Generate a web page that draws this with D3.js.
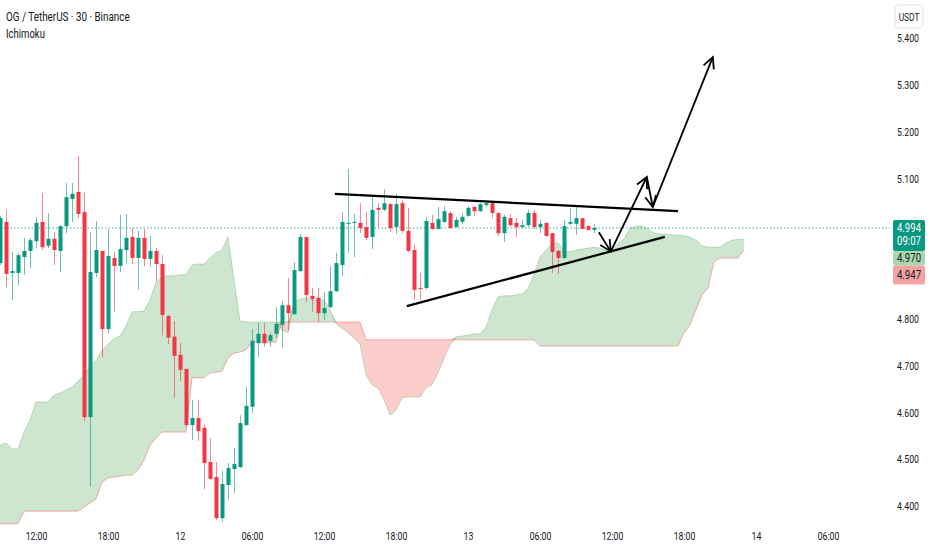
<!DOCTYPE html>
<html>
<head>
<meta charset="utf-8">
<script src="https://cdn.jsdelivr.net/npm/d3@7"></script>
<style>
    body { margin: 0; background: #fff; }
    svg { display: block; }
    text { font-family: Roboto, "Liberation Sans", sans-serif; fill: #131722; }
</style>
</head>
<body>
<svg id="chart" width="932" height="550"></svg>
<script>
// 30 minute candles, first one at 11th 09:00
var barStart = new Date(2025, 6, 11, 9, 0);
var barMinutes = 30;

var opens = [4.919, 5.007, 4.898, 4.898, 4.932, 4.945, 4.966, 5.007, 4.956, 4.971,
    4.945, 4.998, 5.056, 5.071, 5.028, 4.590, 4.898, 4.945, 4.778, 4.930,
    4.913, 4.947, 4.975, 4.930, 4.973, 4.928, 4.945, 4.917, 4.806, 4.762,
    4.723, 4.693, 4.573, 4.588, 4.567, 4.494, 4.462, 4.374, 4.445, 4.479,
    4.483, 4.573, 4.612, 4.748, 4.768, 4.753, 4.768, 4.787, 4.829, 4.810,
    4.902, 4.975, 4.849, 4.845, 4.812, 4.825, 4.859, 4.915, 5.003, 5.005,
    5.005, 4.996, 4.975, 5.037, 5.033, 5.045, 4.996, 5.047, 4.988, 4.947,
    4.866, 4.866, 5.005, 4.992, 5.007, 5.026, 4.996, 5.007, 5.020, 5.039,
    5.030, 5.043, 5.047, 5.026, 4.983, 5.015, 5.005, 4.996, 5.000, 5.026,
    4.996, 5.005, 4.983, 4.945, 4.930, 5.003, 5.003, 5.015, 4.998, 4.990];
var highs = [5.020, 5.033, 4.943, 4.941, 4.973, 4.973, 5.018, 5.069, 5.026, 4.985,
    5.000, 5.090, 5.090, 5.148, 5.069, 4.985, 5.009, 4.945, 4.992, 4.943,
    5.022, 5.024, 4.994, 4.988, 4.992, 4.977, 4.951, 4.936, 4.808, 4.795,
    4.748, 4.693, 4.627, 4.627, 4.573, 4.545, 4.494, 4.475, 4.492, 4.524,
    4.594, 4.654, 4.778, 4.791, 4.791, 4.770, 4.825, 4.838, 4.887, 4.921,
    4.981, 4.975, 4.866, 4.866, 4.857, 4.913, 4.941, 5.028, 5.120, 5.024,
    5.047, 5.028, 5.065, 5.047, 5.077, 5.047, 5.067, 5.054, 5.037, 4.958,
    4.898, 5.018, 5.022, 5.039, 5.041, 5.030, 5.018, 5.026, 5.041, 5.041,
    5.047, 5.050, 5.050, 5.028, 5.022, 5.024, 5.015, 5.011, 5.033, 5.033,
    5.011, 5.005, 4.983, 4.947, 5.011, 5.037, 5.039, 5.015, 5.000, 5.003];
var lows = [4.915, 4.868, 4.840, 4.872, 4.894, 4.909, 4.951, 4.947, 4.951, 4.915,
    4.900, 4.983, 5.007, 5.015, 4.582, 4.441, 4.889, 4.718, 4.770, 4.815,
    4.900, 4.919, 4.917, 4.862, 4.913, 4.911, 4.881, 4.765, 4.746, 4.631,
    4.667, 4.569, 4.541, 4.539, 4.436, 4.456, 4.370, 4.366, 4.415, 4.428,
    4.481, 4.571, 4.599, 4.718, 4.740, 4.740, 4.759, 4.738, 4.774, 4.808,
    4.900, 4.836, 4.815, 4.793, 4.797, 4.823, 4.857, 4.891, 4.941, 4.932,
    4.983, 4.968, 4.949, 4.996, 5.030, 4.985, 4.981, 4.983, 4.943, 4.840,
    4.840, 4.862, 4.990, 4.990, 5.005, 4.992, 4.996, 5.003, 5.018, 5.020,
    5.028, 5.039, 5.015, 4.977, 4.964, 4.996, 4.975, 4.994, 4.996, 4.992,
    4.983, 4.975, 4.898, 4.896, 4.928, 5.000, 4.979, 4.992, 4.988, 4.983];
var closes = [5.015, 4.896, 4.902, 4.936, 4.945, 4.968, 5.005, 4.953, 4.971, 4.947,
    4.998, 5.060, 5.067, 5.024, 4.590, 4.900, 4.947, 4.778, 4.934, 4.913,
    4.949, 4.973, 4.930, 4.973, 4.928, 4.945, 4.917, 4.808, 4.760, 4.721,
    4.691, 4.573, 4.588, 4.560, 4.492, 4.458, 4.374, 4.447, 4.481, 4.490,
    4.577, 4.614, 4.753, 4.768, 4.748, 4.765, 4.789, 4.829, 4.812, 4.904,
    4.975, 4.851, 4.842, 4.812, 4.823, 4.859, 4.919, 5.007, 5.005, 5.007,
    4.994, 4.973, 5.033, 5.033, 5.047, 4.994, 5.045, 4.988, 4.945, 4.862,
    4.864, 5.009, 4.992, 5.013, 5.030, 4.994, 5.011, 5.018, 5.037, 5.030,
    5.045, 5.047, 5.026, 4.983, 5.018, 5.000, 4.996, 5.000, 5.026, 4.996,
    5.003, 4.977, 4.943, 4.930, 4.998, 5.007, 5.015, 4.992, 4.990, 4.994];

// Ichimoku leading spans, already shifted 26 bars ahead
var spanA = [4.530, 4.535, 4.522, 4.522, 4.558, 4.584, 4.622, 4.622, 4.622, 4.637,
    4.641, 4.648, 4.654, 4.667, 4.680, 4.699, 4.710, 4.733, 4.746, 4.757,
    4.763, 4.785, 4.815, 4.815, 4.817, 4.840, 4.879, 4.889, 4.892, 4.892,
    4.894, 4.894, 4.915, 4.917, 4.917, 4.930, 4.941, 4.947, 4.975, 4.883,
    4.795, 4.793, 4.793, 4.793, 4.793, 4.793, 4.793, 4.776, 4.770, 4.836,
    4.842, 4.845, 4.840, 4.840, 4.840, 4.819, 4.789, 4.780, 4.770, 4.759,
    4.746, 4.680, 4.659, 4.652, 4.627, 4.594, 4.605, 4.631, 4.633, 4.633,
    4.633, 4.652, 4.659, 4.684, 4.716, 4.744, 4.761, 4.763, 4.765, 4.768,
    4.768, 4.782, 4.819, 4.847, 4.849, 4.849, 4.851, 4.853, 4.864, 4.894,
    4.932, 4.947, 4.960, 4.962, 4.945, 4.943, 4.947, 4.949, 4.951, 4.953,
    4.951, 4.947, 4.951, 4.960, 4.971, 4.994, 4.998, 4.998, 4.992, 4.983,
    4.981, 4.981, 4.979, 4.979, 4.977, 4.975, 4.968, 4.956, 4.953, 4.953,
    4.953, 4.962, 4.968, 4.970, 4.970];
var spanB = [4.362, 4.362, 4.362, 4.362, 4.389, 4.389, 4.389, 4.389, 4.389, 4.389,
    4.389, 4.389, 4.389, 4.389, 4.398, 4.406, 4.415, 4.451, 4.460, 4.462,
    4.464, 4.466, 4.466, 4.477, 4.498, 4.530, 4.545, 4.558, 4.558, 4.558,
    4.558, 4.558, 4.674, 4.674, 4.674, 4.684, 4.686, 4.688, 4.716, 4.727,
    4.729, 4.733, 4.750, 4.750, 4.750, 4.750, 4.750, 4.795, 4.793, 4.793,
    4.793, 4.793, 4.793, 4.793, 4.793, 4.793, 4.793, 4.793, 4.793, 4.793,
    4.793, 4.755, 4.755, 4.755, 4.755, 4.755, 4.755, 4.755, 4.755, 4.755,
    4.755, 4.755, 4.755, 4.755, 4.755, 4.755, 4.755, 4.755, 4.755, 4.755,
    4.755, 4.755, 4.755, 4.755, 4.755, 4.755, 4.755, 4.755, 4.755, 4.755,
    4.742, 4.742, 4.742, 4.742, 4.742, 4.742, 4.742, 4.742, 4.742, 4.742,
    4.742, 4.742, 4.742, 4.742, 4.742, 4.742, 4.742, 4.742, 4.742, 4.742,
    4.742, 4.742, 4.742, 4.742, 4.770, 4.787, 4.819, 4.851, 4.866, 4.921,
    4.930, 4.930, 4.930, 4.930, 4.947];

var priceTicks = [4.4, 4.5, 4.6, 4.7, 4.8, 4.9, 5.0, 5.1, 5.2, 5.3, 5.4];
var hiddenTicks = [4.9, 5.0];
var timeTickBars = [6, 18, 30, 42, 54, 66, 78, 90, 102, 114, 126, 138];
var timeLabels = ["12:00", "18:00", "12", "06:00", "12:00", "18:00", "13", "06:00", "12:00", "18:00", "14", "06:00"];

var lastPrice = 4.994;
var countdown = "09:07";

// drawings: [bar index, price]
var upperTrend = [[55.8, 5.067], [113.0, 5.030]];
var lowerTrend = [[67.8, 4.827], [110.8, 4.975]];
var arrowPath = [[99.8, 4.985], [101.8, 4.944], [107.8, 5.103], [108.8, 5.039], [118.8, 5.359]];

var upColor = "#089981";
var downColor = "#f23645";
var squeeze = 0.76;

function barTime(i) {
    return new Date(barStart.getTime() + i * barMinutes * 60000);
}

var svg = d3.select("#chart");

var x = d3.scaleTime()
    .domain([barTime(0), barTime(100)])
    .range([0, 600]);

var y = d3.scaleLinear()
    .domain([4.4, 5.4])
    .range([506, 38]);

svg.append("defs")
    .call(function (defs) {
        defs.append("clipPath").attr("id", "plot")
            .append("rect").attr("x", 0).attr("y", 0).attr("width", 890).attr("height", 525);
        defs.append("marker")
            .attr("id", "arrow")
            .attr("markerUnits", "userSpaceOnUse")
            .attr("viewBox", "-14 -8 16 16")
            .attr("markerWidth", 16)
            .attr("markerHeight", 16)
            .attr("orient", "auto")
            .append("path")
                .attr("d", "M-11,-5.5 L0,0 L-11,5.5")
                .attr("fill", "none")
                .attr("stroke", "#000")
                .attr("stroke-width", 1.8)
                .attr("stroke-linejoin", "miter");
    });

var plot = svg.append("g").attr("clip-path", "url(#plot)");

// cloud
var cloud = spanA.map(function (a, i) { return { t: barTime(i), a: a, b: spanB[i] }; });

var greenArea = d3.area()
    .x(function (d) { return x(d.t); })
    .y0(function (d) { return y(d.b); })
    .y1(function (d) { return y(Math.max(d.a, d.b)); });
var redArea = d3.area()
    .x(function (d) { return x(d.t); })
    .y0(function (d) { return y(d.a); })
    .y1(function (d) { return y(Math.max(d.a, d.b)); });

plot.append("path").attr("d", greenArea(cloud)).attr("fill", "rgba(67,160,71,0.26)");
plot.append("path").attr("d", redArea(cloud)).attr("fill", "rgba(244,67,54,0.26)");

plot.append("path")
    .attr("d", d3.line().x(function (d) { return x(d.t); }).y(function (d) { return y(d.a); })(cloud))
    .attr("fill", "none").attr("stroke", "rgba(67,160,71,0.3)").attr("stroke-width", 1);
plot.append("path")
    .attr("d", d3.line().x(function (d) { return x(d.t); }).y(function (d) { return y(d.b); })(cloud))
    .attr("fill", "none").attr("stroke", "rgba(244,67,54,0.4)").attr("stroke-width", 1);

// last price line
plot.append("line")
    .attr("x1", 0).attr("x2", 893)
    .attr("y1", y(lastPrice)).attr("y2", y(lastPrice))
    .attr("stroke", upColor).attr("stroke-opacity", 0.8)
    .attr("stroke-dasharray", "1.5,2");

// candles
var candles = d3.range(opens.length).map(function (i) {
    return { t: barTime(i), o: opens[i], h: highs[i], l: lows[i], c: closes[i] };
});

var cg = plot.append("g")
    .selectAll("g")
    .data(candles)
    .enter()
    .append("g")
        .attr("class", "candle");

cg.append("line")
    .attr("x1", function (d) { return Math.round(x(d.t)) + 0.5; })
    .attr("x2", function (d) { return Math.round(x(d.t)) + 0.5; })
    .attr("y1", function (d) { return y(d.h); })
    .attr("y2", function (d) { return y(d.l); })
    .attr("stroke", function (d) { return d.c >= d.o ? upColor : downColor; })
    .attr("stroke-opacity", 0.6);

cg.append("rect")
    .attr("x", function (d) { return Math.round(x(d.t)) - 1.5; })
    .attr("width", 4)
    .attr("y", function (d) { return y(Math.max(d.o, d.c)); })
    .attr("height", function (d) { return Math.max(1, Math.abs(y(d.o) - y(d.c))); })
    .attr("fill", function (d) { return d.c >= d.o ? upColor : downColor; });

// drawings
function pt(p) { return [x(barTime(p[0])), y(p[1])]; }

[upperTrend, lowerTrend].forEach(function (seg) {
    plot.append("path")
        .attr("d", d3.line()(seg.map(pt)))
        .attr("stroke", "#000").attr("stroke-width", 2.2).attr("fill", "none");
});

d3.pairs(arrowPath).forEach(function (pair) {
    plot.append("path")
        .attr("d", d3.line()(pair.map(pt)))
        .attr("stroke", "#000").attr("stroke-width", 1.8).attr("fill", "none")
        .attr("marker-end", "url(#arrow)");
});

// time axis
var xAxis = d3.axisBottom(x)
    .tickValues(timeTickBars.map(barTime))
    .tickFormat(function (d, i) { return timeLabels[i]; })
    .tickSize(0)
    .tickPadding(6);

svg.append("g")
    .attr("transform", "translate(0,526)")
    .call(xAxis)
    .call(function (g) { g.select(".domain").remove(); })
    .selectAll("text")
        .attr("font-size", 11.5)
        .attr("font-family", "Roboto, sans-serif")
        .attr("fill", "#131722")
        .attr("transform", "scale(" + squeeze + ",1)");

// price axis
var yAxis = d3.axisRight(y)
    .tickValues(priceTicks.filter(function (p) { return hiddenTicks.indexOf(p) < 0; }))
    .tickFormat(d3.format(".3f"))
    .tickSize(0)
    .tickPadding(4);

svg.append("g")
    .attr("transform", "translate(894,0)")
    .call(yAxis)
    .call(function (g) { g.select(".domain").remove(); })
    .selectAll("text")
        .attr("font-size", 11.5)
        .attr("font-family", "Roboto, sans-serif")
        .attr("fill", "#131722")
        .attr("transform", "scale(" + squeeze + ",1)");

// currency badge
var badge = svg.append("g").attr("transform", "translate(895,5)");
badge.append("rect")
    .attr("width", 28).attr("height", 23).attr("rx", 4)
    .attr("fill", "#fff").attr("stroke", "#e0e3eb");
badge.append("text")
    .attr("transform", "translate(14,15.5) scale(" + squeeze + ",1)")
    .attr("text-anchor", "middle")
    .attr("font-size", 11)
    .text("USDT");

// price labels on the scale
var yl = y(lastPrice);
var labels = [
    { top: yl - 8, h: 31, fill: upColor, color: "#fff", lines: [d3.format(".3f")(lastPrice), countdown] },
    { top: yl + 23, h: 14.5, fill: "#a9d8ac", color: "#131722", lines: [d3.format(".3f")(spanA[spanA.length - 1])] },
    { top: yl + 37.5, h: 19, fill: "#f4a3a3", color: "#131722", lines: [d3.format(".3f")(spanB[spanB.length - 1])] }
];

var lg = svg.append("g")
    .selectAll("g")
    .data(labels)
    .enter()
    .append("g")
        .attr("transform", function (d) { return "translate(893," + d.top + ")"; });

lg.append("rect")
    .attr("width", 32)
    .attr("height", function (d) { return d.h; })
    .attr("rx", 2)
    .attr("fill", function (d) { return d.fill; });

lg.each(function (d) {
    var g = d3.select(this);
    d.lines.forEach(function (s, k) {
        var ty = d.lines.length > 1 ? 12 + k * 13 : d.h / 2 + 4;
        g.append("text")
            .attr("transform", "translate(16," + ty + ") scale(0.8,1)")
            .attr("text-anchor", "middle")
            .attr("font-size", 12)
            .style("fill", d.color)
            .text(s);
    });
});

// legend
svg.append("text")
    .attr("transform", "translate(6,21) scale(" + squeeze + ",1)")
    .attr("font-size", 13)
    .text("OG / TetherUS \u00b7 30 \u00b7 Binance");
svg.append("text")
    .attr("transform", "translate(6,38) scale(" + squeeze + ",1)")
    .attr("font-size", 12.5)
    .text("Ichimoku");
</script>
</body>
</html>
